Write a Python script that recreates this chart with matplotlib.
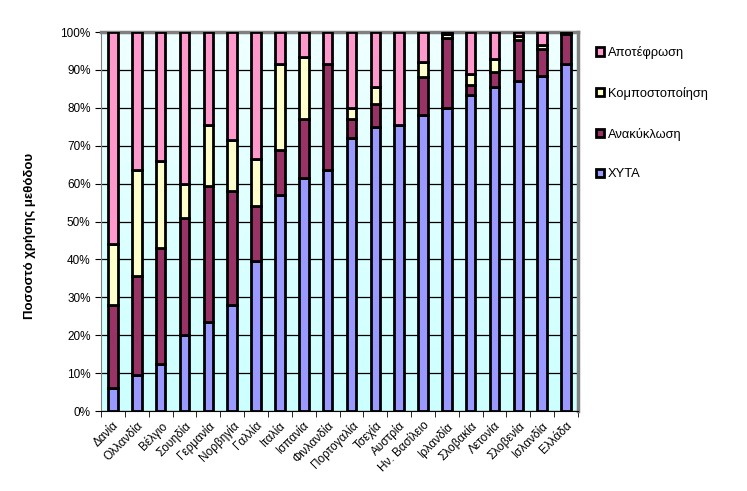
import numpy as np
import matplotlib.pyplot as plt
from matplotlib.patches import Patch

plt.rcParams['font.family'] = ['Liberation Sans', 'DejaVu Sans']

countries = ['Δανία', 'Ολλανδία', 'Βέλγιο', 'Σουηδία', 'Γερμανία', 'Νορβηγία',
             'Γαλλία', 'Ιταλία', 'Ισπανία', 'Φινλανδία', 'Πορτογαλία', 'Τσεχία',
             'Αυστρία', 'Ην. Βασίλειο', 'Ιρλανδία', 'Σλοβακία', 'Λετονία',
             'Σλοβενία', 'Ισλανδία', 'Ελλάδα']

xyta = [6, 9.5, 12.5, 20, 23.5, 28, 39.5, 57, 61.5, 63.5, 72, 75,
        75.5, 78, 80, 83.5, 85.5, 87, 88.5, 91.5]
anakyklosi = [22, 26, 30.5, 31, 36, 30, 14.5, 12, 15.5, 28, 5, 6,
              0, 10, 18.5, 2.5, 4, 11, 7, 8]
kompost = [16, 28, 23, 9, 16, 13.5, 12.5, 22.5, 16.5, 0, 3, 4.5,
           0, 4, 1, 3, 3.5, 1, 1, 0]
apotefrosi = [56, 36.5, 34, 40, 24.5, 28.5, 33.5, 8.5, 6.5, 8.5, 20, 14.5,
              24.5, 8, 0.5, 11, 7, 1, 3.5, 0.5]

series = [('ΧΥΤΑ', xyta, '#9999FF'),
          ('Ανακύκλωση', anakyklosi, '#993366'),
          ('Κομποστοποίηση', kompost, '#FFFFCC'),
          ('Αποτέφρωση', apotefrosi, '#FF99CC')]

fig = plt.figure(figsize=(7.47, 4.91), dpi=100)
ax = fig.add_axes([0.1352, 0.1629, 0.6386, 0.7719])

# background gradient of the plot area
grad = np.linspace(0, 1, 256).reshape(-1, 1)
c_bot = np.array([0.80, 1.0, 1.0])
c_top = np.array([0.94, 1.0, 1.0])
img = c_bot + grad * (c_top - c_bot)
ax.imshow(img[:, None, :].repeat(2, axis=1), extent=[0, 1, 0, 1],
          transform=ax.transAxes, origin='lower', aspect='auto', zorder=0)

x = np.arange(len(countries))
bottom = np.zeros(len(countries))
for name, vals, col in series:
    vals = np.array(vals, dtype=float)
    ax.bar(x, vals, width=0.4, bottom=bottom, color=col, edgecolor='black',
           linewidth=2, zorder=3, label=name)
    bottom += vals

ax.set_xlim(-0.5, len(countries) - 0.5)
ax.set_ylim(0, 100)
ax.set_yticks(np.arange(0, 101, 10))
ax.set_yticklabels([f'{v}%' for v in range(0, 101, 10)], fontsize=8.5)
ax.yaxis.grid(True, color='black', linewidth=0.9, zorder=1)
ax.set_axisbelow(True)

ax.set_xticks(x)
ax.set_xticklabels(countries, rotation=45, ha='right', rotation_mode='anchor',
                   fontsize=8.5)
ax.tick_params(axis='x', length=0, pad=6)
ax.set_xticks(np.arange(-0.5, len(countries), 1), minor=True)
ax.tick_params(axis='x', which='minor', length=4, color='black')
ax.tick_params(axis='y', length=4, color='black')

for s in ['top', 'right']:
    ax.spines[s].set_color('#808080')
    ax.spines[s].set_linewidth(2.5)
ax.spines['left'].set_color('#808080')
ax.spines['bottom'].set_color('black')

ax.set_ylabel('Ποσοστό χρήσης μεθόδου', fontsize=9.5, fontweight='bold')
ax.yaxis.set_label_coords(-0.137, 0.462)

handles = [Patch(facecolor=col, edgecolor='black', linewidth=2, label=name)
           for name, vals, col in series][::-1]
fig.legend(handles=handles, loc='upper left', bbox_to_anchor=(0.782, 0.93),
           frameon=False, fontsize=9.3, handlelength=0.6, handleheight=0.6,
           handletextpad=0.35, labelspacing=2.15)

fig.savefig('out.png', dpi=100)
